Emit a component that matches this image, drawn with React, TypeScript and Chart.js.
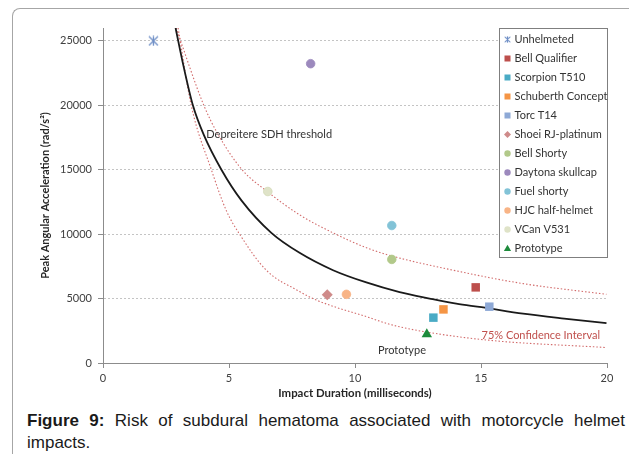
import React, { useEffect, useRef } from 'react';
import { Chart, registerables } from 'chart.js';

Chart.register(...registerables);

// ---------- data ----------
const helmetNames = [
  'Unhelmeted',
  'Bell Qualifier',
  'Scorpion T510',
  'Schuberth Concept',
  'Torc T14',
  'Shoei RJ-platinum',
  'Bell Shorty',
  'Daytona skullcap',
  'Fuel shorty',
  'HJC half-helmet',
  'VCan V531',
  'Prototype',
];
const impactDurationMs = [2.0, 14.79, 13.11, 13.51, 15.33, 8.9, 11.46, 8.24, 11.46, 9.66, 6.54, 12.85];
const peakAngularAccel = [25000, 5870, 3520, 4160, 4370, 5300, 8040, 23230, 10670, 5330, 13310, 2230];

const thresholdDuration = [2.88, 3.2, 3.57, 4.0, 4.7, 5.5, 6.68, 7.8, 9.13, 10.45, 11.77, 12.96, 14.02, 15.02, 16.67, 18.3, 19.98];
const thresholdAccel = [26000, 23000, 19980, 17700, 15000, 12600, 10100, 8550, 7200, 6250, 5500, 5000, 4600, 4330, 3830, 3450, 3100];

const upperCIDuration = [2.9, 4.0, 4.55, 5.52, 6.55, 7.8, 9.13, 10.45, 11.38, 14.02, 16.67, 19.98];
const upperCIAccel = [26000, 20000, 17800, 15000, 13260, 11500, 10100, 8950, 8350, 7150, 6160, 5330];

const lowerCIDuration = [2.98, 3.5, 4.3, 4.9, 5.42, 6.48, 7.8, 8.33, 9.13, 10.45, 11.38, 12.7, 15.35, 19.98];
const lowerCIAccel = [26000, 20000, 15000, 11800, 10000, 7200, 5550, 5000, 4400, 3600, 3000, 2450, 1760, 1200];

const xTickValues = [0, 5, 10, 15, 20];
const yTickValues = [0, 5000, 10000, 15000, 20000, 25000];

const annotationTexts = ['Depreitere SDH threshold', '75% Confidence Interval', 'Prototype'];
const annotationX = [4.1, 15.02, 10.91];
const annotationY = [17730, 2150, 985];

// ---------- styles ----------
const FONT = 'Lato, "Open Sans", sans-serif';
const markerShapes = ['asterisk', 'rect', 'rect', 'rect', 'rect', 'rectRot', 'circle', 'circle', 'circle', 'circle', 'circle', 'triangle'];
const markerColors = [
  '#6f8fc6',
  '#bd4f4c',
  '#4aabc5',
  '#f59545',
  '#8ea9d6',
  '#cf8b8a',
  '#b2c98a',
  '#9c89bd',
  '#82c3d7',
  '#f8b486',
  '#dfe3c8',
  '#1e8b3c',
];
const markerBorders = [
  '#6f8fc6',
  '#bd4f4c',
  '#4aabc5',
  '#f59545',
  '#8ea9d6',
  '#cf8b8a',
  '#b2c98a',
  '#9c89bd',
  '#82c3d7',
  '#f8b486',
  '#d3d9b6',
  '#1e8b3c',
];
const markerRadius: Record<string, number> = { asterisk: 6, rect: 6, rectRot: 5.5, circle: 4.3, triangle: 6 };

function makeAsterisk(size: number, color: string, lw: number) {
  const c = document.createElement('canvas');
  c.width = size;
  c.height = size;
  const g = c.getContext('2d')!;
  g.strokeStyle = color;
  g.lineWidth = lw;
  const m = 1;
  const s = size - 1;
  g.beginPath();
  g.moveTo(m, m);
  g.lineTo(s, s);
  g.moveTo(s, m);
  g.lineTo(m, s);
  g.moveTo(size / 2, m - 0.5);
  g.lineTo(size / 2, s + 0.5);
  g.stroke();
  return c;
}

function drawLegendMarker(ctx: CanvasRenderingContext2D, i: number, x: number, y: number, star: HTMLCanvasElement) {
  const shape = markerShapes[i];
  ctx.save();
  ctx.fillStyle = markerColors[i];
  ctx.strokeStyle = markerBorders[i];
  ctx.beginPath();
  if (shape === 'asterisk') {
    ctx.drawImage(star, x - 3.5, y - 3.5, 7, 7);
  } else if (shape === 'rect') {
    ctx.fillRect(x - 3, y - 3, 6, 6);
  } else if (shape === 'rectRot') {
    ctx.moveTo(x, y - 3.5);
    ctx.lineTo(x + 3.5, y);
    ctx.lineTo(x, y + 3.5);
    ctx.lineTo(x - 3.5, y);
    ctx.closePath();
    ctx.fill();
  } else if (shape === 'circle') {
    ctx.arc(x, y, 3.2, 0, Math.PI * 2);
    ctx.fill();
  } else if (shape === 'triangle') {
    ctx.moveTo(x, y - 3.8);
    ctx.lineTo(x + 3.6, y + 2.6);
    ctx.lineTo(x - 3.6, y + 2.6);
    ctx.closePath();
    ctx.fill();
  }
  ctx.restore();
}

export default function App() {
  const canvasRef = useRef<HTMLCanvasElement | null>(null);

  useEffect(() => {
    document.documentElement.style.overflow = 'hidden';
    const canvas = canvasRef.current;
    if (!canvas) return;

    const star = makeAsterisk(11, '#6f8fc6', 1.3);
    const legendStar = makeAsterisk(11, '#6f8fc6', 1.6);

    const helmetDatasets = helmetNames.map((name, i) => ({
      label: name,
      data: [{ x: impactDurationMs[i], y: peakAngularAccel[i] }],
      pointStyle: markerShapes[i] === 'asterisk' ? (star as any) : markerShapes[i],
      pointRadius: markerRadius[markerShapes[i]],
      pointBackgroundColor: markerColors[i],
      pointBorderColor: markerBorders[i],
      pointBorderWidth: markerShapes[i] === 'circle' ? 0.8 : 0,
      showLine: false,
      order: 1,
    }));

    const curve = (xs: number[], ys: number[]) => xs.map((x, i) => ({ x, y: ys[i] }));

    const curveDatasets = [
      {
        label: 'threshold',
        data: curve(thresholdDuration, thresholdAccel),
        borderColor: '#1a1a1a',
        borderWidth: 1.8,
      },
      {
        label: 'upper',
        data: curve(upperCIDuration, upperCIAccel),
        borderColor: '#d26b6b',
        borderWidth: 1.1,
        borderDash: [1.5, 2],
      },
      {
        label: 'lower',
        data: curve(lowerCIDuration, lowerCIAccel),
        borderColor: '#d26b6b',
        borderWidth: 1.1,
        borderDash: [1.5, 2],
      },
    ].map((d) => ({
      ...d,
      showLine: true,
      pointRadius: 0,
      cubicInterpolationMode: 'monotone' as const,
      order: 10,
    }));

    const legendPlugin = {
      id: 'boxLegend',
      afterDatasetsDraw(chart: any) {
        const { ctx, chartArea } = chart;
        const w = 108;
        const h = 229;
        const left = Math.round(chartArea.right - w) + 0.5;
        const top = Math.round(chartArea.top) + 0.5;
        ctx.save();
        ctx.fillStyle = '#ffffff';
        ctx.fillRect(left, top, w, h);
        ctx.strokeStyle = '#7f7f7f';
        ctx.lineWidth = 1;
        ctx.strokeRect(left, top, w, h);
        ctx.font = `11px ${FONT}`;
        ctx.textBaseline = 'middle';
        ctx.textAlign = 'left';
        helmetNames.forEach((name, i) => {
          const y = top + 11 + i * 19;
          drawLegendMarker(ctx, i, left + 8, y, legendStar);
          ctx.fillStyle = '#333333';
          ctx.fillText(name, left + 15, y);
        });
        ctx.restore();
      },
    };

    const annotationPlugin = {
      id: 'notes',
      afterDatasetsDraw(chart: any) {
        const { ctx, scales } = chart;
        ctx.save();
        ctx.textBaseline = 'middle';
        ctx.textAlign = 'left';
        annotationTexts.forEach((t, i) => {
          const px = scales.x.getPixelForValue(annotationX[i]);
          const py = scales.y.getPixelForValue(annotationY[i]);
          ctx.font = `11px ${FONT}`;
          ctx.fillStyle = i === 1 ? '#c0504d' : '#333333';
          ctx.fillText(t, px, py);
        });
        ctx.restore();
      },
    };

    const chart = new Chart(canvas, {
      type: 'scatter',
      data: { datasets: [...helmetDatasets, ...curveDatasets] as any },
      options: {
        animation: false,
        responsive: false,
        layout: { padding: { top: 20, right: 22, left: 0, bottom: 5 } },
        plugins: {
          legend: { display: false },
          tooltip: { enabled: false },
        },
        scales: {
          x: {
            type: 'linear',
            position: 'bottom',
            min: 0,
            max: 20,
            afterBuildTicks: (s: any) => {
              s.ticks = xTickValues.map((v) => ({ value: v }));
            },
            afterFit: (s: any) => {
              s.height = 40;
            },
            ticks: {
              color: '#404040',
              font: { family: FONT, size: 11 },
              padding: 4,
              callback: (v: any) => String(v),
            },
            grid: { drawOnChartArea: false, drawTicks: true, tickLength: 5, tickColor: '#8c8c8c' },
            border: { color: '#8c8c8c', width: 1 },
            title: {
              display: true,
              text: 'Impact Duration (milliseconds)',
              color: '#262626',
              font: { family: FONT, size: 11.4, weight: 'bold' },
              padding: { top: 0, bottom: 3 },
            },
          },
          y: {
            type: 'linear',
            min: 0,
            max: 26000,
            afterBuildTicks: (s: any) => {
              s.ticks = yTickValues.map((v) => ({ value: v }));
            },
            afterFit: (s: any) => {
              s.width = 95;
            },
            ticks: {
              color: '#404040',
              font: { family: FONT, size: 11 },
              padding: 6,
              callback: (v: any) => String(v),
            },
            grid: { color: '#c4c4c4', lineWidth: 1, drawTicks: true, tickLength: 5, tickColor: '#8c8c8c', tickBorderDash: [] },
            border: { color: '#8c8c8c', width: 1, dash: [2, 2] },
            title: {
              display: true,
              text: 'Peak Angular Acceleration (rad/s²)',
              color: '#262626',
              font: { family: FONT, size: 11, weight: 'bold' },
              padding: { top: 31, bottom: 0 },
            },
          },
        },
      },
      plugins: [annotationPlugin, legendPlugin],
    });

    return () => chart.destroy();
  }, []);

  return (
    <div style={{ position: 'relative', width: 621, height: 446 }}>
      <div
        style={{
          position: 'absolute',
          left: 4,
          top: 0,
          width: 624,
          height: 446,
          borderLeft: '1px solid #a6a6a6',
          borderTop: '1px solid #a6a6a6',
          borderTopLeftRadius: 8,
          boxSizing: 'border-box',
        }}
      />
      <canvas
        ref={canvasRef}
        width={621}
        height={400}
        style={{ position: 'absolute', left: 0, top: 0, display: 'block' }}
      />
      <div
        style={{
          position: 'absolute',
          left: 19,
          top: 402,
          width: 598,
          fontFamily: '"Liberation Sans", Arial, sans-serif',
          fontSize: 17,
          lineHeight: '22px',
          textAlign: 'justify',
          color: '#1a1a1a',
        }}
      >
        <b>Figure 9:</b> Risk of subdural hematoma associated with motorcycle helmet impacts.
      </div>
    </div>
  );
}
